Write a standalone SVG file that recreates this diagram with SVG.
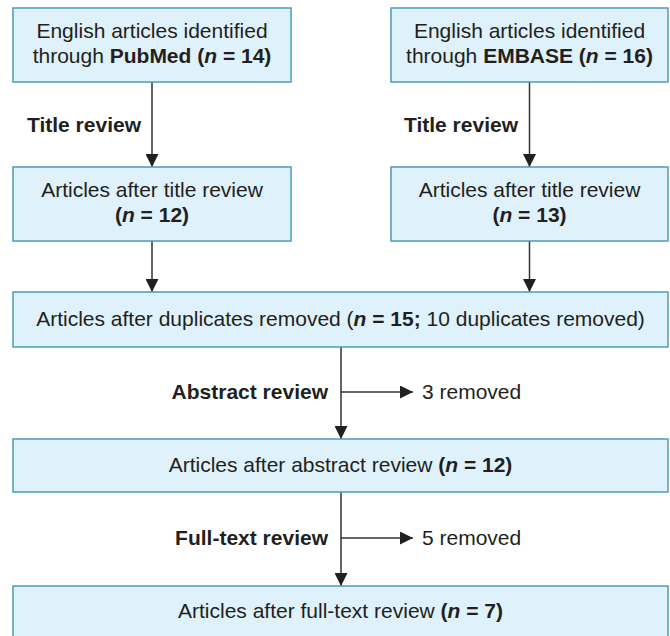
<svg xmlns="http://www.w3.org/2000/svg" width="670" height="636" viewBox="0 0 670 636">
<defs>
<style>
.box{fill:#dff1fa;stroke:#4a9cbf;stroke-width:1.5}
text{font-family:"Liberation Sans",Arial,sans-serif;font-size:21px;fill:#231f20}
.c{text-anchor:middle}
.r{text-anchor:end}
.b{font-weight:bold}
.bi{font-weight:bold;font-style:italic}
.ln{stroke:#333;stroke-width:1.5;fill:none}
</style>
<marker id="ah" viewBox="0 0 13 13" refX="13" refY="6.5" markerWidth="13" markerHeight="13" markerUnits="userSpaceOnUse" orient="auto">
<path d="M0,0 L13,6.5 L0,13 Z" fill="#231f20"/>
</marker>
</defs>
<rect width="670" height="636" fill="#fff"/>
<g id="connectors">
<line class="ln" x1="152" y1="82" x2="152" y2="167" marker-end="url(#ah)"/>
<line class="ln" x1="529.5" y1="82" x2="529.5" y2="167" marker-end="url(#ah)"/>
<line class="ln" x1="152" y1="241" x2="152" y2="292" marker-end="url(#ah)"/>
<line class="ln" x1="529.5" y1="241" x2="529.5" y2="292" marker-end="url(#ah)"/>
<line class="ln" x1="341" y1="347" x2="341" y2="439" marker-end="url(#ah)"/>
<line class="ln" x1="341" y1="392" x2="413" y2="392" marker-end="url(#ah)"/>
<line class="ln" x1="341" y1="492" x2="341" y2="586" marker-end="url(#ah)"/>
<line class="ln" x1="341" y1="538" x2="413" y2="538" marker-end="url(#ah)"/>
<text class="b" x="27" y="132">Title review</text>
<text class="b" x="404" y="132">Title review</text>
<text class="b r" x="328" y="399">Abstract review</text>
<text x="422" y="399">3 removed</text>
<text class="b r" x="328" y="545">Full-text review</text>
<text x="422" y="545">5 removed</text>
</g>
<g id="pubmed">
<rect class="box" x="13" y="8" width="278" height="74"/>
<text class="c" x="152" y="38">English articles identified</text>
<text class="c" x="152" y="63">through <tspan class="b">PubMed (</tspan><tspan class="bi">n</tspan><tspan class="b"> = 14)</tspan></text>
</g>
<g id="embase">
<rect class="box" x="391" y="8" width="277" height="74"/>
<text class="c" x="529.5" y="38">English articles identified</text>
<text class="c" x="529.5" y="63">through <tspan class="b">EMBASE (</tspan><tspan class="bi">n</tspan><tspan class="b"> = 16)</tspan></text>
</g>
<g id="title-pubmed">
<rect class="box" x="13" y="167" width="278" height="74"/>
<text class="c" x="152" y="197">Articles after title review</text>
<text class="c b" x="152" y="222">(<tspan class="bi">n</tspan> = 12)</text>
</g>
<g id="title-embase">
<rect class="box" x="391" y="167" width="277" height="74"/>
<text class="c" x="529.5" y="197">Articles after title review</text>
<text class="c b" x="529.5" y="222">(<tspan class="bi">n</tspan> = 13)</text>
</g>
<g id="duplicates">
<rect class="box" x="13" y="292" width="655" height="55"/>
<text class="c" x="340.5" y="326">Articles after duplicates removed (<tspan class="bi">n</tspan><tspan class="b"> = 15;</tspan> 10 duplicates removed)</text>
</g>
<g id="abstract">
<rect class="box" x="13" y="439" width="655" height="53"/>
<text class="c" x="340.5" y="472">Articles after abstract review <tspan class="b">(</tspan><tspan class="bi">n</tspan><tspan class="b"> = 12)</tspan></text>
</g>
<g id="fulltext">
<rect class="box" x="13" y="586" width="655" height="60"/>
<text class="c" x="340.5" y="618">Articles after full-text review <tspan class="b">(</tspan><tspan class="bi">n</tspan><tspan class="b"> = 7)</tspan></text>
</g>
</svg>
